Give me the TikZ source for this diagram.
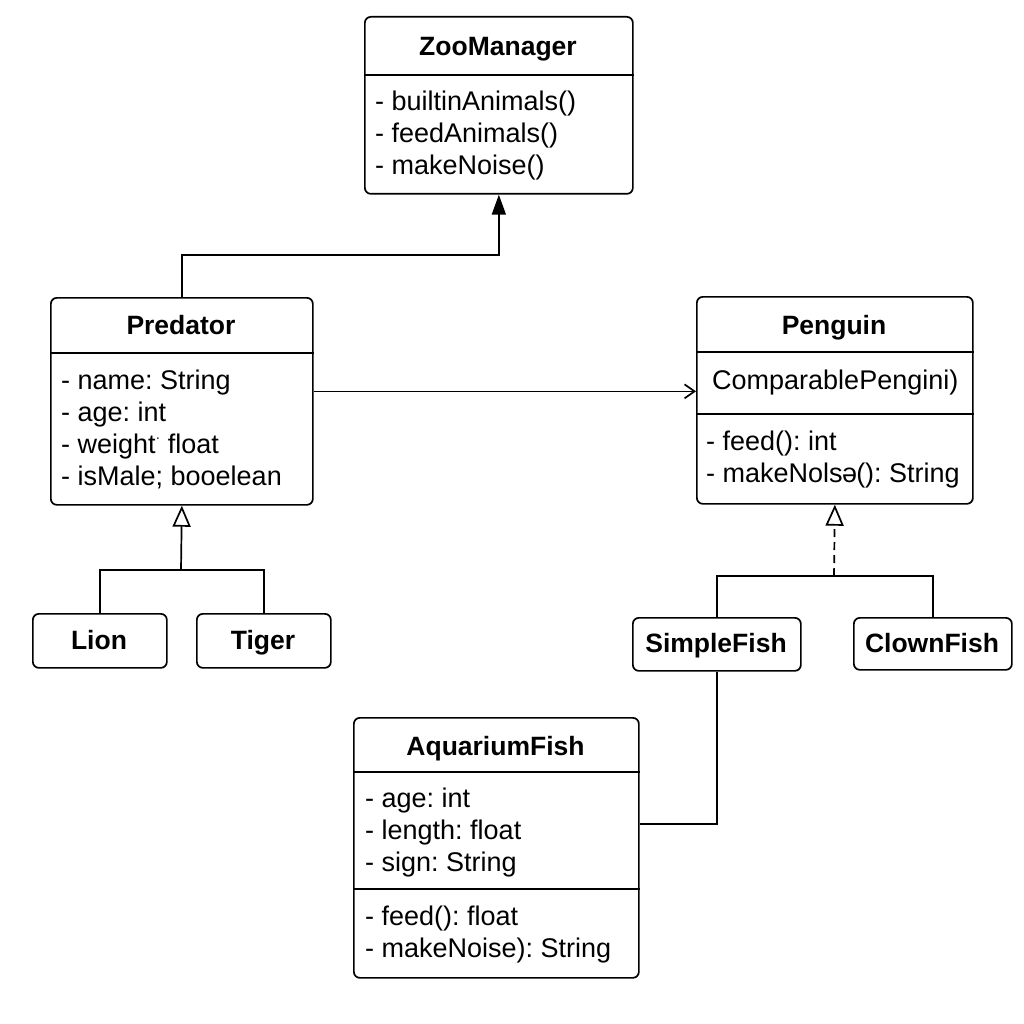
\documentclass[tikz,border=0pt]{standalone}
\usepackage{fontspec}
\setmainfont{Liberation Sans}
\usetikzlibrary{arrows.meta}
\frenchspacing
\begin{document}
\begin{tikzpicture}[x=1pt,y=-1pt,
  box/.style={draw,line width=1.7pt,rounded corners=6pt,inner sep=0pt,anchor=north west},
  ttl/.style={font=\fontsize{26.5}{30}\selectfont\bfseries,inner sep=0pt,anchor=base},
  txt/.style={font=\fontsize{27}{31}\selectfont,anchor=base west,inner sep=0pt},
  conn/.style={line width=1.7pt},
  divl/.style={line width=1.7pt},
  filltip/.style={-{Triangle[length=20pt,width=14pt]}},
  opentip/.style={-{Triangle[open,fill=white,length=21pt,width=18pt]}},
  barbtip/.style={-{Straight Barb[length=10pt,width=14pt]}}
]
\fill[white] (0,0) rectangle (1024,1024);
\useasboundingbox (0,0) rectangle (1024,1024);

% ZooManager
\node[box,minimum width=268pt,minimum height=177pt] (zm) at (364,16) {};
\node[ttl] (zmt) at (498,55.5) {ZooManager};
\draw[divl] (zm.west |- 0,75) -- (zm.east |- 0,75);
\node[txt] (zm1) at (375,111) {- builtinAnimals()};
\node[txt] (zm2) at (375,143) {- feedAnimals()};
\node[txt] (zm3) at (375,175) {- makeNoise()};

% Predator
\node[box,minimum width=262pt,minimum height=207pt] (pr) at (50,297) {};
\node[ttl] (prt) at (181,334.5) {Predator};
\draw[divl] (pr.west |- 0,353) -- (pr.east |- 0,353);
\node[txt] (pr1) at (61,389) {- name: String};
\node[txt] (pr2) at (61,421) {- age: int};
\node[txt] (pr3) at (61,453) {- weight\raisebox{0.4em}{\fontsize{14}{14}\selectfont\textperiodcentered} float};
\node[txt] (pr4) at (61,485) {- isMale; booelean};

% Penguin
\node[box,minimum width=276pt,minimum height=207pt] (pe) at (696,296) {};
\node[ttl] (pet) at (834,334.5) {Penguin};
\draw[divl] (pe.west |- 0,352) -- (pe.east |- 0,352);
\draw[divl] (pe.west |- 0,414) -- (pe.east |- 0,414);
\node[txt] (pe0) at (712,389) {ComparablePengini)};
\node[txt] (pe1) at (706,450) {- feed(): int};
\node[txt] (pe2) at (706,482) {- makeNols\kern-0.5pt ə\kern-1pt(): String};

% Lion, Tiger
\node[box,minimum width=134pt,minimum height=54pt] (li) at (32,613) {};
\node[ttl] (lit) at (99,649.5) {Lion};
\node[box,minimum width=134pt,minimum height=54pt] (ti) at (196,613) {};
\node[ttl] (tit) at (263,649.5) {Tiger};

% SimpleFish, ClownFish
\node[box,minimum width=168pt,minimum height=53pt] (sf) at (632,617) {};
\node[ttl] (sft) at (716,652.5) {SimpleFish};
\node[box,minimum width=158pt,minimum height=52pt] (cf) at (853,617) {};
\node[ttl] (cft) at (932,652.5) {ClownFish};

% AquariumFish
\node[box,minimum width=285pt,minimum height=260pt] (aq) at (353,717) {};
\node[ttl] (aqt) at (495.5,755.5) {AquariumFish};
\draw[divl] (aq.west |- 0,772) -- (aq.east |- 0,772);
\draw[divl] (aq.west |- 0,889) -- (aq.east |- 0,889);
\node[txt] (aq1) at (365,807) {- age: int};
\node[txt] (aq2) at (365,839) {- length: float};
\node[txt] (aq3) at (365,871) {- sign: String};
\node[txt] (aq4) at (365,925) {- feed(): float};
\node[txt] (aq5) at (365,957) {- makeNoise): String};

% Connectors
\draw[conn,filltip] (pr.north) -- ++(0,-42) -| (zm.south);
\draw[conn,barbtip] ([yshift=10pt]pr.east) -- ([yshift=10pt]pr.east -| pe.west);

\coordinate (j1) at (181,570);
\draw[conn] (li.north) |- (j1) -| (ti.north);
\draw[conn,opentip] (j1) -- (pr.south);

\coordinate (j2) at (834,576);
\draw[conn] (sf.north) |- (j2) -| (cf.north);
\draw[conn,opentip,dash pattern=on 8pt off 5pt] (j2) -- (pe.south);

\draw[conn] (sf.south) |- ([yshift=24pt]aq.east);
\end{tikzpicture}
\end{document}
